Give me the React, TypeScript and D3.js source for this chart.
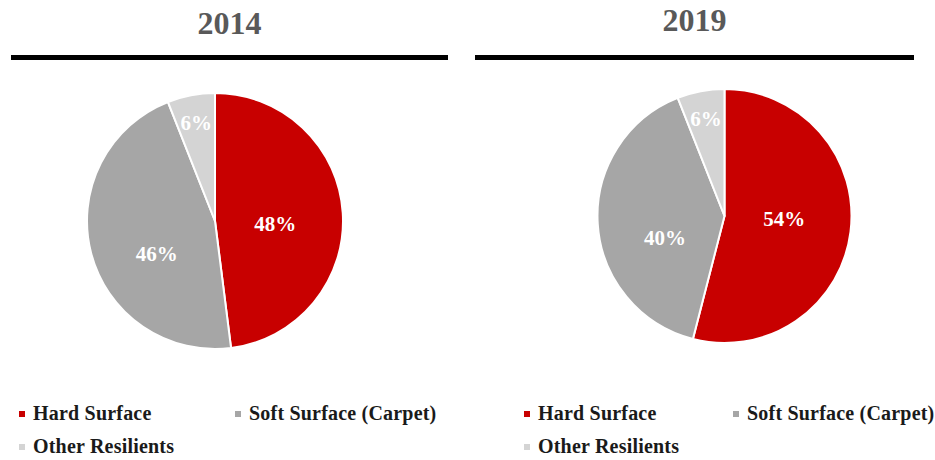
import React from "react";
import * as d3 from "d3";

const categories = ["Hard Surface", "Soft Surface (Carpet)", "Other Resilients"];
const years = ["2014", "2019"];
const values2014 = [48, 46, 6];
const values2019 = [54, 40, 6];
const colors = ["#C80000", "#A6A6A6", "#D4D4D4"];

const W = 935;
const H = 460;
const SERIF = "'Liberation Serif', 'Times New Roman', serif";

type PanelProps = {
  year: string;
  values: number[];
  cx: number;
  cy: number;
  r: number;
  titleY: number;
  lineX0: number;
  lineX1: number;
  legendX: number;
  legendX2: number;
};

function Panel({ year, values, cx, cy, r, titleY, lineX0, lineX1, legendX, legendX2 }: PanelProps) {
  const pie = d3.pie<number>().sort(null).value((d) => d);
  const arcs = pie(values);
  const arc = d3.arc<d3.PieArcDatum<number>>().innerRadius(0).outerRadius(r);
  const total = d3.sum(values);

  const labelPos = (a: d3.PieArcDatum<number>) => {
    const mid = (a.startAngle + a.endAngle) / 2;
    const small = a.value / total < 0.1;
    const k = small ? 0.78 : 0.47;
    if (!small && Math.sin(mid) > 0) {
      // right-hand large slice: label sits level with the centre
      return [cx + r * k, cy + r * 0.02];
    }
    const x = Math.sin(mid) * r * k;
    let y = -Math.cos(mid) * r * k;
    if (!small) y += r * 0.14;
    return [cx + x, cy + y];
  };

  const legendPos = [
    [legendX, 0],
    [legendX2, 0],
    [legendX, 1],
  ];

  return (
    <g>
      <text
        x={(lineX0 + lineX1) / 2}
        y={titleY}
        textAnchor="middle"
        fontFamily={SERIF}
        fontWeight="bold"
        fontSize={32}
        fill="#595959"
      >
        {year}
      </text>
      <line x1={lineX0} x2={lineX1} y1={57.5} y2={57.5} stroke="#000" strokeWidth={5} />
      <g transform={`translate(${cx},${cy})`}>
        {arcs.map((a, i) => (
          <path key={i} d={arc(a) || ""} fill={colors[i]} stroke="#fff" strokeWidth={2} strokeLinejoin="round" />
        ))}
      </g>
      {arcs.map((a, i) => {
        const [lx, ly] = labelPos(a);
        return (
          <text
            key={i}
            x={lx}
            y={ly}
            dy="0.35em"
            textAnchor="middle"
            fontFamily={SERIF}
            fontWeight="bold"
            fontSize={21}
            fill="#fff"
          >
            {`${a.value}%`}
          </text>
        );
      })}
      {categories.map((c, i) => {
        const [lx, row] = legendPos[i];
        const by = 420 + row * 33;
        return (
          <g key={c}>
            <rect x={lx - 14} y={by - 9} width={6} height={6} fill={colors[i]} />
            <text
              x={lx}
              y={by}
              fontFamily={SERIF}
              fontWeight="bold"
              fontSize={20}
              letterSpacing={0.2}
              fill="#1a1a1a"
            >
              {c}
            </text>
          </g>
        );
      })}
    </g>
  );
}

export default function App() {
  return (
    <svg
      width={W}
      height={H}
      viewBox={`0 0 ${W} ${H}`}
      style={{ position: "absolute", left: 0, top: 0, background: "#fff" }}
    >
      <Panel
        year={years[0]}
        values={values2014}
        cx={215}
        cy={221}
        r={128}
        titleY={34}
        lineX0={11}
        lineX1={448}
        legendX={33}
        legendX2={249}
      />
      <Panel
        year={years[1]}
        values={values2019}
        cx={724.5}
        cy={216}
        r={127}
        titleY={31}
        lineX0={475}
        lineX1={914}
        legendX={538}
        legendX2={747}
      />
    </svg>
  );
}
